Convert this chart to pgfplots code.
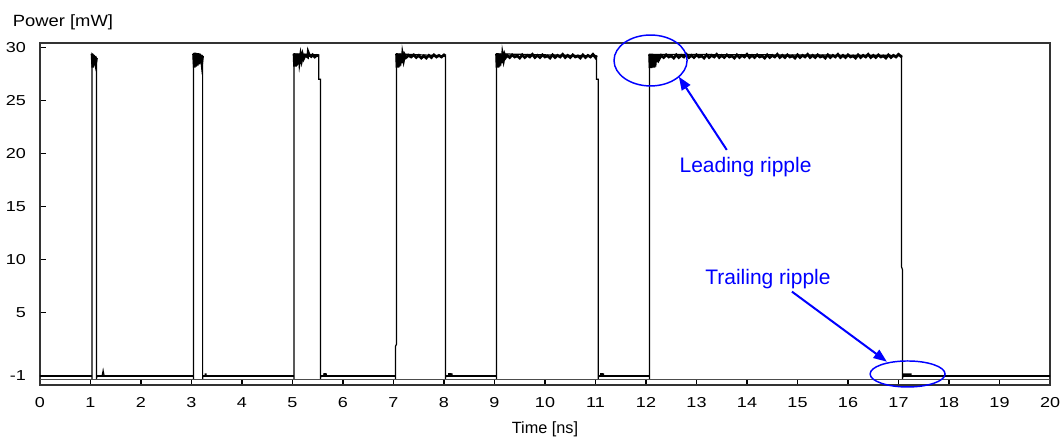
\documentclass[border=0pt]{standalone}
\usepackage{fontspec}
\setmainfont{Liberation Sans}
\newfontfamily\tickfont[FakeStretch=1.25]{Liberation Sans}
\newfontfamily\wlabelfont[FakeStretch=1.13]{Liberation Sans}
\usepackage{pgfplots}
\pgfplotsset{compat=1.18}
\usetikzlibrary{arrows.meta}

% thin main trace: edges of the pulses and the low level
\pgfplotstableread{
x y
0 -1
1.03 -1
1.03 -1.28
1.03 29.4
1.12 29.0
1.12 -1.28
1.125 -1
1.23 -1
1.25 -0.5
1.27 -1
3.04 -1
3.04 -1.28
3.04 29.4
3.22 29.2
3.22 -1.28
3.225 -1
5.03 -1
5.03 -1.28
5.03 29.4
5.52 29.3
5.52 27.0
5.555 27.0
5.555 -1.28
5.56 -1
7.04 -1
7.04 -1.28
7.04 1.8
7.06 2.0
7.06 29.4
8.03 29.2
8.03 -1.28
8.035 -1
9.04 -1
9.04 -1.28
9.04 29.4
11.02 29.2
11.02 27.0
11.055 27.0
11.055 -1.28
11.06 -1
12.07 -1
12.07 -1.28
12.07 29.35
17.06 29.25
17.06 9.3
17.08 9.0
17.08 -1.28
17.085 -1
20 -1
}\trace

% low level (thick band)
\pgfplotstableread{
x y
0 -1
1.03 -1
1.06 nan
1.12 -1
3.04 -1
3.1 nan
3.22 -1
5.03 -1
5.1 nan
5.555 -1
7.04 -1
7.5 nan
8.03 -1
9.04 -1
10 nan
11.055 -1
12.07 -1
14 nan
17.08 -1
20 -1
}\low

% small ripples just after the falling edges
\pgfplotstableread{
x y
3.26 -0.85
3.30 -0.85
4 nan
5.61 -0.82
5.68 -0.85
6 nan
8.08 -0.82
8.17 -0.85
9 nan
11.09 -0.82
11.17 -0.85
12 nan
17.09 -0.85
17.26 -0.85
}\blips

% pulse tops with ripple
\pgfplotstableread{
x y
1.03 29.4
1.045 28.1
1.06 29.3
1.075 28.3
1.09 29.2
1.105 28.6
1.12 29.0
2 nan
3.04 29.4
3.055 28.1
3.07 29.5
3.085 28.2
3.10 29.3
3.115 28.3
3.13 29.45
3.145 28.4
3.16 29.4
3.175 28.5
3.19 29.3
3.205 28.6
3.22 29.2
4 nan
5.03 29.4
5.04 28.2
5.05 29.4
5.06 28.2
5.07 29.35
5.08 28.3
5.09 29.4
5.10 28.4
5.11 29.3
5.12 28.6
5.13 29.35
5.14 28.7
5.16 29.3
5.18 28.8
5.20 29.3
5.22 28.95
5.25 29.25
5.30 29.1
5.31 29.55
5.33 29.3
5.37 29.15
5.40 29.3
5.44 29.1
5.48 29.25
5.52 29.2
6 nan
7.06 29.4
7.07 28.1
7.08 29.4
7.09 28.1
7.10 29.35
7.11 28.2
7.12 29.4
7.13 28.3
7.14 29.3
7.15 28.5
7.16 29.35
7.17 28.6
7.18 29.3
7.20 28.8
7.22 29.3
7.25 29.05
7.30 29.25
7.35 29.1
7.40 29.3
7.45 29.05
7.50 29.25
7.55 29.0
7.60 29.2
7.65 29.0
7.70 29.25
7.75 29.05
7.80 29.3
7.85 29.1
7.90 29.25
7.95 29.1
8.00 29.3
8.03 29.2
8.5 nan
9.04 29.4
9.05 28.1
9.06 29.4
9.07 28.1
9.08 29.35
9.09 28.2
9.10 29.4
9.11 28.3
9.12 29.3
9.13 28.5
9.14 29.35
9.15 28.6
9.16 29.3
9.18 28.8
9.20 29.3
9.22 29.05
9.25 29.25
9.30 29.05
9.35 29.30
9.40 29.10
9.45 29.20
9.50 29.00
9.55 29.30
9.60 29.05
9.65 29.25
9.70 29.10
9.75 29.35
9.80 29.05
9.85 29.25
9.90 29.05
9.95 29.30
10.00 29.10
10.05 29.20
10.10 29.00
10.15 29.30
10.20 29.05
10.25 29.25
10.30 29.10
10.35 29.35
10.40 29.05
10.45 29.25
10.50 29.05
10.55 29.30
10.60 29.10
10.65 29.20
10.70 29.00
10.75 29.30
10.80 29.05
10.85 29.25
10.90 29.10
10.95 29.35
11.00 29.05
11.02 29.25
11.5 nan
12.07 29.35
12.08 28.05
12.09 29.3
12.10 28.05
12.11 29.35
12.12 28.1
12.13 29.3
12.14 28.1
12.15 29.35
12.16 28.1
12.17 29.3
12.18 28.2
12.19 29.35
12.20 28.6
12.21 29.3
12.22 28.6
12.23 29.35
12.24 28.7
12.25 29.3
12.26 28.9
12.30 29.25
12.35 29.05
12.40 29.30
12.45 29.10
12.50 29.20
12.55 29.00
12.60 29.30
12.65 29.05
12.70 29.25
12.75 29.10
12.80 29.35
12.85 29.05
12.90 29.25
12.95 29.05
13.00 29.30
13.05 29.10
13.10 29.20
13.15 29.00
13.20 29.30
13.25 29.05
13.30 29.25
13.35 29.10
13.40 29.35
13.45 29.05
13.50 29.25
13.55 29.05
13.60 29.30
13.65 29.10
13.70 29.20
13.75 29.00
13.80 29.30
13.85 29.05
13.90 29.25
13.95 29.10
14.00 29.35
14.05 29.05
14.10 29.25
14.15 29.05
14.20 29.30
14.25 29.10
14.30 29.20
14.35 29.00
14.40 29.30
14.45 29.05
14.50 29.25
14.55 29.10
14.60 29.35
14.65 29.05
14.70 29.25
14.75 29.05
14.80 29.30
14.85 29.10
14.90 29.20
14.95 29.00
15.00 29.30
15.05 29.05
15.10 29.25
15.15 29.10
15.20 29.35
15.25 29.05
15.30 29.25
15.35 29.05
15.40 29.30
15.45 29.10
15.50 29.20
15.55 29.00
15.60 29.30
15.65 29.05
15.70 29.25
15.75 29.10
15.80 29.35
15.85 29.05
15.90 29.25
15.95 29.05
16.00 29.30
16.05 29.10
16.10 29.20
16.15 29.00
16.20 29.30
16.25 29.05
16.30 29.25
16.35 29.10
16.40 29.35
16.45 29.05
16.50 29.25
16.55 29.05
16.60 29.30
16.65 29.10
16.70 29.20
16.75 29.00
16.80 29.30
16.85 29.05
16.90 29.25
16.95 29.10
17.00 29.35
17.05 29.15
17.06 29.25
}\tops

\begin{document}
\begin{tikzpicture}
\useasboundingbox (-30pt,-45.75pt) rectangle (767.25pt,288.75pt);
\begin{axis}[
  at={(0,0)}, anchor=south west,
  scale only axis, width=757.5pt, height=256.5pt,
  xmin=0, xmax=20, ymin=-1.85, ymax=30.42,
  xtick={0,1,...,20}, ytick={-1,5,10,15,20,25,30},
  tick align=inside, xtick pos=bottom, ytick pos=left,
  major tick length=4.5pt,
  tick style={black, line width=0.8pt},
  axis line style={black!80, line width=1.1pt},
  /pgf/number format/assume math mode=true,
  tick label style={font=\tickfont\fontsize{10.8}{12}\selectfont},
  yticklabel style={xshift=-7pt},
  xticklabel style={yshift=-6pt},
  clip=false,
  unbounded coords=jump,
]
% thin reference line just above the axis
\addplot[black!70, line width=0.6pt] coordinates {(0,-1.28) (20,-1.28)};
\addplot[black, line width=2pt] table[x=x,y=y] {\low};
\addplot[black, line width=0.9pt, line join=miter] table[x=x,y=y] {\trace};
\addplot[black, line width=2pt] table[x=x,y=y] {\tops};
\addplot[black, line width=1.6pt] table[x=x,y=y] {\blips};

% annotations
\draw[blue, line width=1.1pt] (axis cs:12.09,28.77) ellipse [x radius=27.4pt, y radius=19.1pt];
\draw[blue, line width=1.5pt, -{Triangle[length=10pt,width=7.5pt]}] (axis cs:13.60,20.33) -- (axis cs:12.65,27.24);
\node[blue, anchor=base west, inner sep=0, font=\fontsize{15.75}{18}\selectfont] at (axis cs:12.66,18.22) {Leading ripple};

\draw[blue, line width=1.1pt] (axis cs:17.18,-0.81) ellipse [x radius=28.1pt, y radius=9.75pt];
\draw[blue, line width=1.5pt, -{Triangle[length=10pt,width=7.5pt]}] (axis cs:14.89,6.96) -- (axis cs:16.77,0.35);
\node[blue, anchor=base west, inner sep=0, font=\fontsize{15.75}{18}\selectfont] at (axis cs:13.17,7.59) {Trailing ripple};

% axis labels
\node[anchor=base west, inner sep=0, xshift=-20.5pt, yshift=12.2pt, font=\wlabelfont\fontsize{12.2}{14}\selectfont] at (rel axis cs:0,1) {Power [mW]};
\node[anchor=base, inner sep=0, yshift=-36.2pt, font=\fontsize{12.2}{14}\selectfont] at (rel axis cs:0.5,0) {Time [ns]};
\end{axis}
\end{tikzpicture}
\end{document}
